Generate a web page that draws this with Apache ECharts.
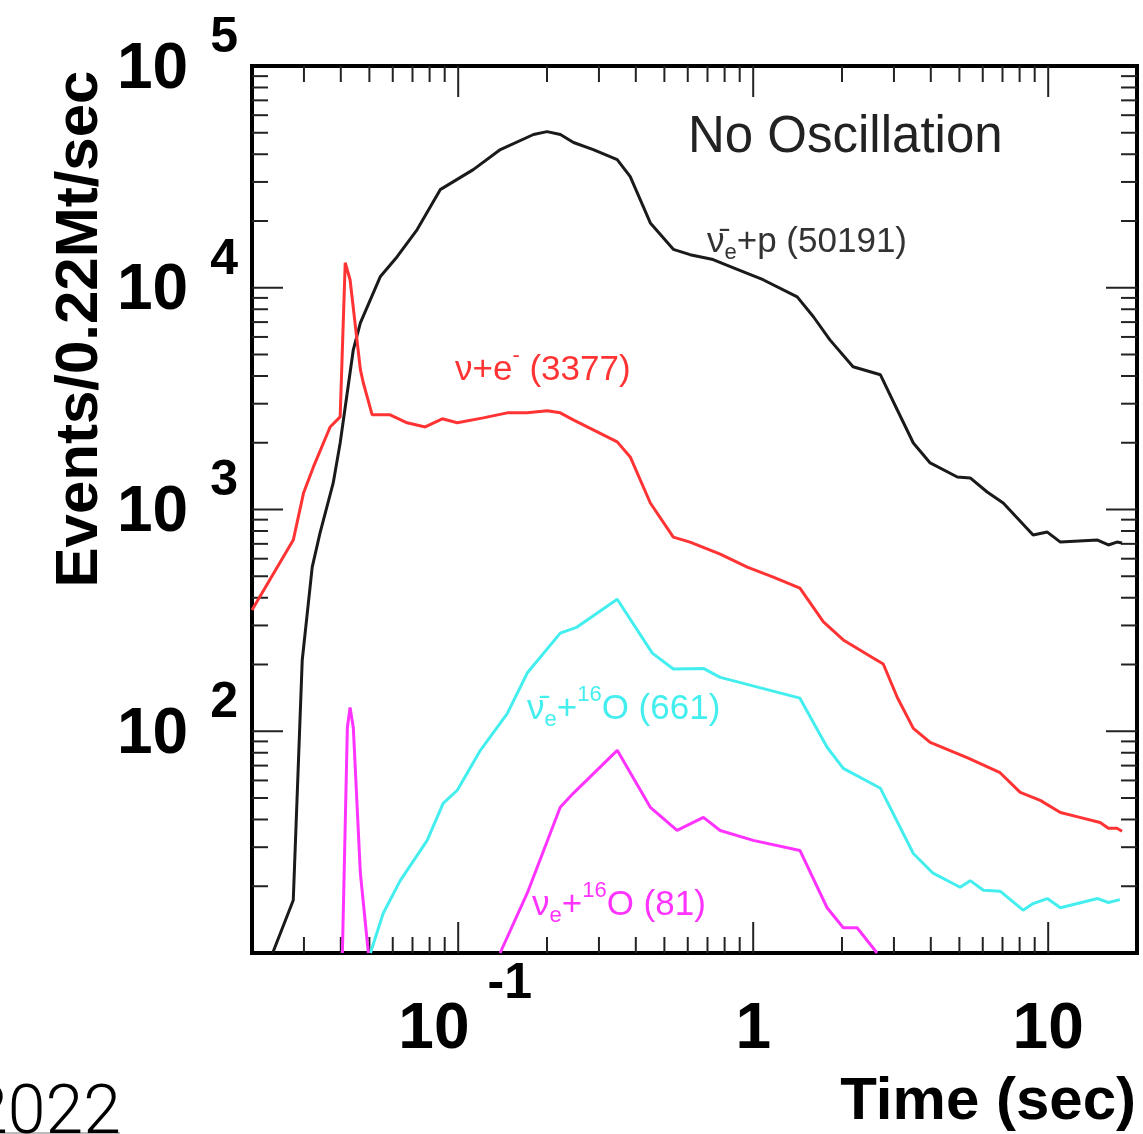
<!DOCTYPE html>
<html>
<head>
<meta charset="utf-8">
<script src="https://cdn.jsdelivr.net/npm/echarts@6/dist/echarts.min.js"></script>
<style>
  html, body { margin: 0; padding: 0; background: #fff; }
  #main { width: 1143px; height: 1134px; }
</style>
</head>
<body>
<div id="main"></div>
<script>
// anti-nu_e + p
var pTime = [0.0235, 0.0276, 0.0296, 0.032, 0.034, 0.0377, 0.0398, 0.0441, 0.0466, 0.0544, 0.0621, 0.0726, 0.0869, 0.1125, 0.139, 0.18, 0.2, 0.222, 0.246, 0.287, 0.346, 0.383, 0.448, 0.536, 0.611, 0.731, 0.883, 1.08, 1.41, 1.6, 1.82, 2.18, 2.7, 3.08, 3.49, 3.98, 4.92, 5.44, 6.21, 7.04, 8.89, 9.93, 11.0, 14.7, 16.0, 17.1, 17.8];
var pEvents = [10, 17.3, 209, 550, 783, 1318, 1995, 5250, 6950, 11200, 13800, 18300, 27700, 34100, 42000, 49100, 50600, 49100, 45200, 42000, 37800, 31700, 19600, 14900, 14100, 13400, 12100, 10870, 9100, 7400, 5820, 4400, 4050, 2810, 1995, 1622, 1402, 1388, 1199, 1070, 767, 791, 713, 728, 692, 713, 706];

// nu + e-
var eTime = [0.02, 0.0276, 0.0299, 0.0323, 0.0368, 0.0398, 0.0414, 0.043, 0.0466, 0.0477, 0.0511, 0.0588, 0.0671, 0.0773, 0.0883, 0.0993, 0.1216, 0.1466, 0.1714, 0.2004, 0.2218, 0.2455, 0.287, 0.346, 0.383, 0.448, 0.536, 0.611, 0.773, 0.955, 1.17, 1.44, 1.73, 2.02, 2.55, 2.76, 3.08, 3.49, 3.98, 5.31, 6.87, 8.04, 9.4, 11.0, 12.8, 15.0, 16.0, 17.1, 17.8];
var eEvents = [352, 728, 1186, 1556, 2356, 2617, 12970, 10870, 4270, 3720, 2673, 2673, 2460, 2356, 2564, 2460, 2590, 2728, 2728, 2788, 2728, 2535, 2285, 2018, 1726, 1070, 751, 713, 629, 550, 495, 442, 311, 258, 214, 201, 142, 103, 89, 76, 65, 53, 48.8, 43, 40.9, 38.8, 36.5, 36.5, 35.4];

// anti-nu_e + 16O
var aoTime = [0.0504, 0.0557, 0.0636, 0.0785, 0.0889, 0.0993, 0.1189, 0.1466, 0.1714, 0.2218, 0.253, 0.346, 0.455, 0.536, 0.678, 0.773, 1.44, 1.78, 2.02, 2.7, 3.49, 4.07, 5.03, 5.44, 6.03, 6.87, 8.22, 8.89, 9.93, 11.0, 14.7, 16.0, 17.5];
var aoEvents = [10, 15.1, 21.2, 32.2, 47.3, 54.2, 82, 120, 183, 277, 295, 394, 225, 191, 192, 175, 141, 84.7, 68, 55.3, 28.1, 22.9, 19.8, 21.2, 19.2, 19.0, 15.6, 16.7, 17.6, 16.0, 17.6, 16.9, 17.4];

// nu_e + 16O (neutronization spike, then main part)
var oSpikeTime = [0.0405, 0.0421, 0.043, 0.0441, 0.0466, 0.0496];
var oSpikeEvents = [10, 104, 128, 104, 22.9, 10];
var oTime = [0.1387, 0.1714, 0.2218, 0.2455, 0.346, 0.448, 0.552, 0.678, 0.773, 1.0, 1.44, 1.78, 2.02, 2.25, 2.63];
var oEvents = [10, 18.6, 45.4, 52.5, 82, 45.4, 35.7, 40.9, 35.7, 32.2, 29.0, 16.0, 13.0, 13.0, 10];

// axes
var xMin = 0.02, xMax = 20, yMin = 10, yMax = 100000;
var xTicks = [0.1, 1, 10];
var xTickBase = ['10', '1', '10'];
var xTickExp = ['-1', '', ''];
var yTicks = [100, 1000, 10000, 100000];
var yTickBase = ['10', '10', '10', '10'];
var yTickExp = ['2', '3', '4', '5'];
var xMinorTicks = [0.03, 0.04, 0.05, 0.06, 0.07, 0.08, 0.09, 0.2, 0.3, 0.4, 0.5, 0.6, 0.7, 0.8, 0.9, 2, 3, 4, 5, 6, 7, 8, 9];
var yMinorTicks = [20, 30, 40, 50, 60, 70, 80, 90, 200, 300, 400, 500, 600, 700, 800, 900, 2000, 3000, 4000, 5000, 6000, 7000, 8000, 9000, 20000, 30000, 40000, 50000, 60000, 70000, 80000, 90000];

var FONT = '"Liberation Sans", Arial, Helvetica, sans-serif';

function zip(a, b) {
    return a.map(function (v, i) { return [v, b[i]]; });
}
function tickIndex(v, ticks) {
    for (var i = 0; i < ticks.length; i++) {
        if (Math.abs(Math.log10(v) - Math.log10(ticks[i])) < 1e-6) return i;
    }
    return -1;
}

var myChart = echarts.init(document.getElementById('main'));

var tickStyle = { stroke: '#222', lineWidth: 2 };
var MAJOR = 31, MINOR = 16;

var xTickData = xTicks.map(function (v) { return [v, yMin, 1]; })
    .concat(xMinorTicks.map(function (v) { return [v, yMin, 0]; }));
var yTickData = yTicks.slice(0, 3).map(function (v) { return [xMin, v, 1]; })
    .concat(yMinorTicks.map(function (v) { return [xMin, v, 0]; }));

var lineSeries = function (name, data, color) {
    return {
        name: name,
        type: 'line',
        data: data,
        showSymbol: false,
        symbol: 'none',
        smooth: false,
        clip: true,
        lineStyle: { color: color, width: 3 },
        itemStyle: { color: color },
        z: 3
    };
};

// annotation label styles: normal, subscript (d) and superscript (u)
var annoRich = function (color) {
    return {
        n: { fontSize: 35, fontFamily: FONT, fill: color, lineHeight: 42 },
        d: { fontSize: 22, fontFamily: FONT, fill: color, lineHeight: 42, padding: [21, 0, 0, 0] },
        u: { fontSize: 22, fontFamily: FONT, fill: color, lineHeight: 42, padding: [0, 0, 28, 0] }
    };
};

var option = {
    animation: false,
    backgroundColor: '#fff',
    grid: {
        left: 252, top: 66, right: 6, bottom: 181,
        show: true, borderColor: '#000', borderWidth: 4, backgroundColor: 'transparent'
    },
    xAxis: {
        type: 'log', logBase: 10, min: xMin, max: xMax,
        axisLine: { show: false }, axisTick: { show: false }, splitLine: { show: false },
        minorTick: { show: false },
        axisLabel: {
            margin: 45,
            color: '#000',
            formatter: function (v) {
                var i = tickIndex(v, xTicks);
                if (i < 0) return '';
                return xTickExp[i] ? '{bp|' + xTickBase[i] + '}{e|' + xTickExp[i] + '}' : '{b|' + xTickBase[i] + '}';
            },
            rich: {
                b: { fontSize: 64, fontWeight: 'bold', fontFamily: FONT, color: '#000', lineHeight: 64 },
                bp: { fontSize: 64, fontWeight: 'bold', fontFamily: FONT, color: '#000', lineHeight: 64, padding: [0, 0, 0, 14] },
                e: { fontSize: 50, fontWeight: 'bold', fontFamily: FONT, color: '#000', lineHeight: 64, padding: [0, 0, 92, 18] }
            }
        }
    },
    yAxis: {
        type: 'log', logBase: 10, min: yMin, max: yMax,
        axisLine: { show: false }, axisTick: { show: false }, splitLine: { show: false },
        minorTick: { show: false },
        axisLabel: {
            margin: 14,
            color: '#000',
            formatter: function (v) {
                var i = tickIndex(v, yTicks);
                if (i < 0) return '';
                return '{b|' + yTickBase[i] + '}{e|' + yTickExp[i] + '}';
            },
            rich: {
                b: { fontSize: 64, fontWeight: 'bold', fontFamily: FONT, color: '#000', lineHeight: 64, padding: [8, 0, 0, 0] },
                e: { fontSize: 50, fontWeight: 'bold', fontFamily: FONT, color: '#000', lineHeight: 64, padding: [0, 0, 56, 22] }
            }
        }
    },
    series: [
        {
            type: 'custom',
            silent: true,
            data: xTickData,
            z: 1,
            renderItem: function (params, api) {
                var v = api.value(0);
                var len = api.value(2) ? MAJOR : MINOR;
                var b = api.coord([v, yMin]);
                var t = api.coord([v, yMax]);
                return {
                    type: 'group',
                    children: [
                        { type: 'line', shape: { x1: b[0], y1: b[1], x2: b[0], y2: b[1] - len }, style: tickStyle },
                        { type: 'line', shape: { x1: t[0], y1: t[1], x2: t[0], y2: t[1] + len }, style: tickStyle }
                    ]
                };
            }
        },
        {
            type: 'custom',
            silent: true,
            data: yTickData,
            z: 1,
            renderItem: function (params, api) {
                var v = api.value(1);
                var len = api.value(2) ? MAJOR : MINOR;
                var l = api.coord([xMin, v]);
                var r = api.coord([xMax, v]);
                return {
                    type: 'group',
                    children: [
                        { type: 'line', shape: { x1: l[0], y1: l[1], x2: l[0] + len, y2: l[1] }, style: tickStyle },
                        { type: 'line', shape: { x1: r[0], y1: r[1], x2: r[0] - len, y2: r[1] }, style: tickStyle }
                    ]
                };
            }
        },
        lineSeries('anti-nu_e+p', zip(pTime, pEvents), '#1a1a1a'),
        lineSeries('nu+e', zip(eTime, eEvents), '#ff3333'),
        lineSeries('anti-nu_e+16O', zip(aoTime, aoEvents), '#44eeee'),
        lineSeries('nu_e+16O spike', zip(oSpikeTime, oSpikeEvents), '#ff33ff'),
        lineSeries('nu_e+16O', zip(oTime, oEvents), '#ff33ff')
    ],
    graphic: [
        {
            type: 'text', x: 688, y: 138, z: 10,
            style: { text: 'No Oscillation', font: '51px ' + FONT, fill: '#222', align: 'left', verticalAlign: 'middle' }
        },
        {
            type: 'text', x: 707, y: 242, z: 10,
            style: { text: '{n|\u03bd\u0304}{d|e}{n|+p (50191)}', rich: annoRich('#333'), align: 'left', verticalAlign: 'middle' }
        },
        {
            type: 'text', x: 455, y: 370, z: 10,
            style: { text: '{n|\u03bd+e}{u|-}{n| (3377)}', rich: annoRich('#ff3333'), align: 'left', verticalAlign: 'middle' }
        },
        {
            type: 'text', x: 527, y: 709, z: 10,
            style: { text: '{n|\u03bd\u0304}{d|e}{n|+}{u|16}{n|O (661)}', rich: annoRich('#44eeee'), align: 'left', verticalAlign: 'middle' }
        },
        {
            type: 'text', x: 532, y: 905, z: 10,
            style: { text: '{n|\u03bd}{d|e}{n|+}{u|16}{n|O (81)}', rich: annoRich('#ff33ff'), align: 'left', verticalAlign: 'middle' }
        },
        {
            type: 'text', x: 80, y: 329, rotation: Math.PI / 2, z: 10,
            style: { text: 'Events/0.22Mt/sec', font: 'bold 60px ' + FONT, fill: '#000', align: 'center', verticalAlign: 'middle' }
        },
        {
            type: 'text', x: 1136, y: 1102, z: 10,
            style: { text: 'Time (sec)', font: 'bold 60px ' + FONT, fill: '#000', align: 'right', verticalAlign: 'middle' }
        },
        {
            type: 'text', x: 121, y: 1116, z: 10,
            style: { text: '2022', font: '300 68px Roboto, Lato, sans-serif', fill: '#000', align: 'right', verticalAlign: 'middle' }
        },
        {
            type: 'line', z: 9,
            shape: { x1: 0, y1: 1133, x2: 120, y2: 1133 },
            style: { stroke: '#bbb', lineWidth: 2 }
        }
    ]
};

myChart.setOption(option);
</script>
</body>
</html>
